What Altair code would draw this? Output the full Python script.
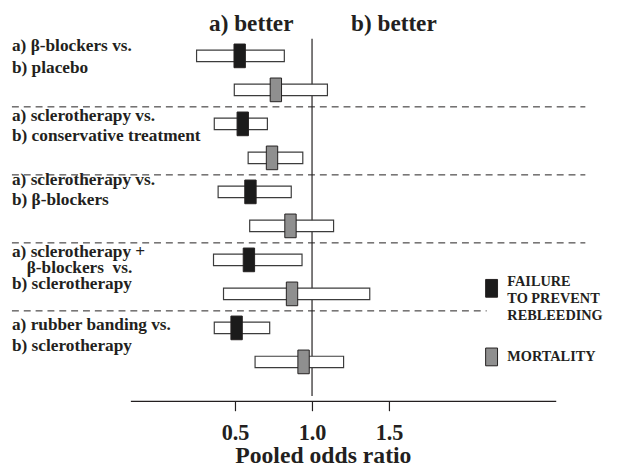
import altair as alt
import pandas as pd

# ---------------- data ----------------
outcomes = ["FAILURE TO PREVENT REBLEEDING", "MORTALITY"]
legend_lines = [["FAILURE", "TO PREVENT", "REBLEEDING"], ["MORTALITY"]]

comparison_lines = [
    ["a) β-blockers vs.", "b) placebo"],
    ["a) sclerotherapy vs.", "b) conservative treatment"],
    ["a) sclerotherapy vs.", "b) β-blockers"],
    ["a) sclerotherapy +", "β-blockers\u00a0 vs.", "b) sclerotherapy"],
    ["a) rubber banding vs.", "b) sclerotherapy"],
]

fail_est = [0.53, 0.55, 0.60, 0.59, 0.51]
fail_lo = [0.25, 0.365, 0.39, 0.36, 0.365]
fail_hi = [0.82, 0.71, 0.865, 0.935, 0.725]

mort_est = [0.765, 0.74, 0.86, 0.87, 0.945]
mort_lo = [0.495, 0.585, 0.595, 0.425, 0.63]
mort_hi = [1.10, 0.94, 1.14, 1.375, 1.205]

tick_values = [0.5, 1.0, 1.5]
side_labels = ["a) better", "b) better"]
x_title = "Pooled odds ratio"

# ---------------- tables ----------------
rows = []
for g in range(len(fail_est)):
    rows.append(dict(row=2 * g + 1, outcome=outcomes[0], est=fail_est[g], lo=fail_lo[g], hi=fail_hi[g]))
    rows.append(dict(row=2 * g + 2, outcome=outcomes[1], est=mort_est[g], lo=mort_lo[g], hi=mort_hi[g]))
df = pd.DataFrame(rows)

sep_long = pd.DataFrame({"b": [2 * g + 2.5 for g in range(3)]})
sep_short = pd.DataFrame({"b": [2 * 3 + 2.5]})
ref_line = pd.DataFrame({"x": [1.0], "y": [0.5], "y2": [11.0]})

# ---------------- style ----------------
FONT = "Liberation Serif"
INK = "#231f20"
W, H = 431, 389
PAD = {"left": 124, "top": 6, "right": 56, "bottom": 64}

xs = alt.Scale(domain=[-0.18, 2.583], nice=False, zero=False)
ys = alt.Scale(domain=[0, 11], reverse=True, nice=False, zero=False)
colors = alt.Scale(domain=outcomes, range=["#1b1b1b", "#8f8f8f"])

x_axis = alt.Axis(
    values=tick_values, format=".1f", title=x_title, grid=False,
    tickSize=10, tickColor=INK, tickWidth=1.2, domainColor=INK, domainWidth=1.2,
    labelFont=FONT, labelFontWeight="bold", labelFontSize=22.5, labelColor=INK,
    labelPadding=11,
    titleFont=FONT, titleFontWeight="bold", titleFontSize=24, titleColor=INK,
    titleX=195, titleY=62, titleBaseline="alphabetic", titleAlign="center",
)

boxes = alt.Chart(df).mark_bar(size=11.5, fill="white", stroke="#3c3c3c", strokeWidth=1.2).encode(
    x=alt.X("lo:Q", scale=xs, axis=x_axis),
    x2="hi:Q",
    y=alt.Y("row:Q", scale=ys, axis=None),
)

markers = alt.Chart(df).mark_point(
    shape="M-0.48,-1H0.48V1H-0.48Z", size=576, filled=True, opacity=1,
    stroke=INK, strokeWidth=1,
).encode(
    x=alt.X("est:Q", scale=xs, axis=x_axis),
    y=alt.Y("row:Q", scale=ys, axis=None),
    fill=alt.Fill("outcome:N", scale=colors, legend=None),
)

vline = alt.Chart(ref_line).mark_rule(color=INK, strokeWidth=1.2).encode(
    x=alt.X("x:Q", scale=xs, axis=x_axis),
    y=alt.Y("y:Q", scale=ys, axis=None),
    y2="y2:Q",
)

seps1 = alt.Chart(sep_long).mark_rule(color=INK, strokeWidth=1, strokeDash=[7, 5]).encode(
    x=alt.value(-120), x2=alt.value(461), y=alt.Y("b:Q", scale=ys, axis=None)
)
seps2 = alt.Chart(sep_short).mark_rule(color=INK, strokeWidth=1, strokeDash=[7, 5]).encode(
    x=alt.value(-120), x2=alt.value(361), y=alt.Y("b:Q", scale=ys, axis=None)
)


def text_at(text, x, y, size, align="left"):
    return alt.Chart(pd.DataFrame({"t": [text]})).mark_text(
        font=FONT, fontWeight="bold", fontSize=size, align=align,
        baseline="alphabetic", color=INK,
    ).encode(x=alt.value(x), y=alt.value(y), text="t:N")


layers = [seps1, seps2, vline, boxes, markers]

# header labels
layers.append(text_at(side_labels[0], 122.5, 14, 23.5, "center"))
layers.append(text_at(side_labels[1], 267, 14, 23.5, "center"))

# comparison labels (baselines in pixels relative to plot top)
label_baselines = [[35, 57], [105, 126], [170, 191], [243, 259, 276], [317, 338]]
for g, lines in enumerate(comparison_lines):
    for i, line in enumerate(lines):
        xoff = -105 if (g == 3 and i == 1) else -120
        layers.append(text_at(line, xoff, label_baselines[g][i], 17.5))

# legend
legend_df = pd.DataFrame({"outcome": outcomes, "py": [275, 344.5]})
swatches = alt.Chart(legend_df).mark_point(
    shape="M-0.67,-1H0.67V1H-0.67Z", size=324, filled=True, opacity=1,
    stroke=INK, strokeWidth=1,
).encode(
    x=alt.value(366),
    y=alt.Y("py:Q", scale=None),
    fill=alt.Fill("outcome:N", scale=colors, legend=None),
)
layers.append(swatches)
legend_baselines = [[273, 290, 307], [349]]
for k, lines in enumerate(legend_lines):
    for i, line in enumerate(lines):
        layers.append(text_at(line, 382, legend_baselines[k][i], 14.5))

chart = alt.layer(*layers).properties(
    width=W, height=H, padding=PAD,
    autosize=alt.AutoSizeParams(type="none"),
    background="white",
).configure_view(stroke=None)

chart.save("out.html", embed_options={"renderer": "svg", "actions": False})
